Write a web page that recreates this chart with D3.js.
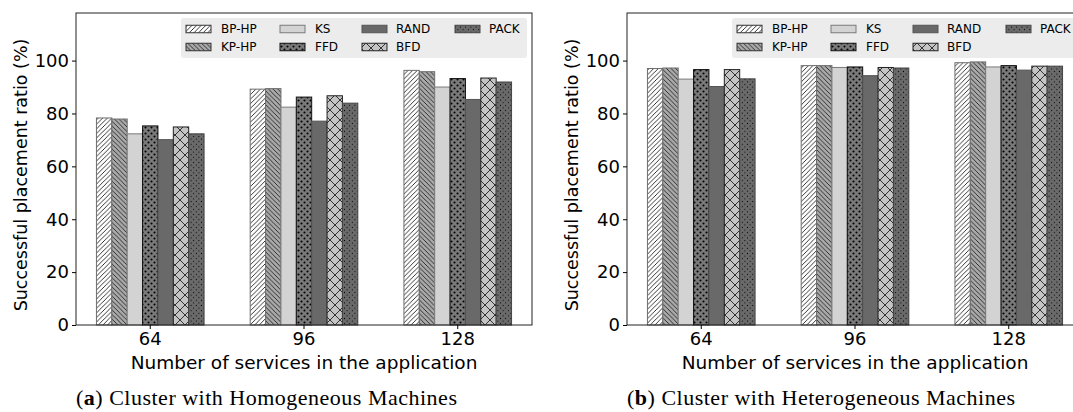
<!DOCTYPE html>
<html>
<head>
<meta charset="utf-8">
<script src="https://cdn.jsdelivr.net/npm/d3@7"></script>
<style>
    body { margin: 0; background: #fff; }
    svg { display: block; }
    .tick text { font-family: "DejaVu Sans", sans-serif; }
</style>
</head>
<body>
<div id="chart"></div>
<script>
// categories / series
const categories = ['64', '96', '128'];
const seriesNames = ['BP-HP', 'KP-HP', 'KS', 'FFD', 'RAND', 'BFD', 'PACK'];
const yTicks = [0, 20, 40, 60, 80, 100];

// (a) homogeneous machines, one array per series (64, 96, 128)
const homBPHP = [78.3, 89.2, 96.3];
const homKPHP = [77.9, 89.4, 95.8];
const homKS = [72.3, 82.4, 90.0];
const homFFD = [75.3, 86.2, 93.2];
const homRAND = [70.1, 77.1, 85.3];
const homBFD = [74.9, 86.7, 93.4];
const homPACK = [72.3, 83.9, 91.9];

// (b) heterogeneous machines
const hetBPHP = [97.0, 98.1, 99.2];
const hetKPHP = [97.2, 98.1, 99.5];
const hetKS = [93.0, 97.4, 97.6];
const hetFFD = [96.6, 97.6, 98.1];
const hetRAND = [90.2, 94.3, 96.4];
const hetBFD = [96.6, 97.4, 97.9];
const hetPACK = [93.1, 97.2, 97.9];

const homogeneous = [homBPHP, homKPHP, homKS, homFFD, homRAND, homBFD, homPACK];
const heterogeneous = [hetBPHP, hetKPHP, hetKS, hetFFD, hetRAND, hetBFD, hetPACK];

const styles = {
    'BP-HP': { fill: 'url(#pBP)', stroke: '#6e6e6e' },
    'KP-HP': { fill: 'url(#pKP)', stroke: '#6e6e6e' },
    'KS': { fill: '#d3d3d3', stroke: '#7a7a7a' },
    'FFD': { fill: 'url(#pFFD)', stroke: '#111' },
    'RAND': { fill: '#696969', stroke: '#555' },
    'BFD': { fill: 'url(#pBFD)', stroke: '#222' },
    'PACK': { fill: 'url(#pPACK)', stroke: '#444' },
};

const W = 1073, H = 412;
const svg = d3.select('#chart').append('svg')
    .attr('width', W)
    .attr('height', H);

svg.append('rect').attr('width', W).attr('height', H).attr('fill', '#fff');

// hatch patterns
const defs = svg.append('defs');

function linePattern(id, bg, size, paths, sw)
{
    const p = defs.append('pattern')
        .attr('id', id)
        .attr('patternUnits', 'userSpaceOnUse')
        .attr('width', size)
        .attr('height', size);
    p.append('rect').attr('width', size).attr('height', size).attr('fill', bg);
    paths.forEach(d => p.append('path').attr('d', d).attr('stroke', '#222').attr('stroke-width', sw).attr('fill', 'none'));
}

function dotPattern(id, bg, size, dots, r)
{
    const p = defs.append('pattern')
        .attr('id', id)
        .attr('patternUnits', 'userSpaceOnUse')
        .attr('width', size)
        .attr('height', size);
    p.append('rect').attr('width', size).attr('height', size).attr('fill', bg);
    dots.forEach(([cx, cy]) => p.append('circle').attr('cx', cx).attr('cy', cy).attr('r', r).attr('fill', '#000'));
}

const s = 4.6;
linePattern('pBP', '#fff', s, [`M0,${s} L${s},0`, `M${-s / 2},${s / 2} L${s / 2},${-s / 2}`, `M${s / 2},${s * 1.5} L${s * 1.5},${s / 2}`], 0.9);
linePattern('pKP', '#a9a9a9', s, [`M0,0 L${s},${s}`, `M${-s / 2},${s / 2} L${s / 2},${s * 1.5}`, `M${s / 2},${-s / 2} L${s * 1.5},${s / 2}`], 0.9);
const b = 10;
linePattern('pBFD', '#c4c4c4', b, [`M0,0 L${b},${b}`, `M0,${b} L${b},0`], 0.9);
dotPattern('pFFD', '#7a7a7a', 6, [[1.5, 1.5], [4.5, 4.5]], 1.05);
dotPattern('pPACK', '#6a6a6a', 5.2, [[1.3, 1.3], [3.9, 3.9]], 0.55);

const margin = { top: 13, bottom: 325 };

function drawPanel(left, values, caption, tag)
{
    const right = left + 456;
    const g = svg.append('g');

    const x = d3.scaleBand()
        .domain(categories)
        .range([left, right])
        .paddingInner(0.3)
        .paddingOuter(0.133);

    const xs = d3.scaleBand()
        .domain(seriesNames)
        .range([0, x.bandwidth()]);

    const y = d3.scaleLinear()
        .domain([0, 118])
        .range([margin.bottom, margin.top]);

    // bars
    seriesNames.forEach((name, si) => {
        g.append('g')
            .selectAll('rect')
            .data(values[si])
            .enter()
                .append('rect')
                    .attr('x', (v, i) => x(categories[i]) + xs(name))
                    .attr('y', v => y(v))
                    .attr('width', xs.bandwidth())
                    .attr('height', v => y(0) - y(v))
                    .attr('fill', styles[name].fill)
                    .attr('stroke', styles[name].stroke)
                    .attr('stroke-width', 1);
    });

    // frame
    g.append('rect')
        .attr('x', left).attr('y', margin.top)
        .attr('width', right - left).attr('height', margin.bottom - margin.top)
        .attr('fill', 'none').attr('stroke', '#222').attr('stroke-width', 1);

    const yAxis = g.append('g')
        .attr('transform', `translate(${left},0)`)
        .call(d3.axisLeft(y).tickValues(yTicks).tickSize(4).tickPadding(3));
    yAxis.select('.domain').remove();
    yAxis.selectAll('text').attr('font-size', 18).attr('fill', '#000');

    const xAxis = g.append('g')
        .attr('transform', `translate(0,${margin.bottom})`)
        .call(d3.axisBottom(x).tickSize(4).tickPadding(3));
    xAxis.select('.domain').remove();
    xAxis.selectAll('text').attr('font-size', 18).attr('fill', '#000');

    g.append('text')
        .attr('transform', `translate(${left - 49},${(margin.top + margin.bottom) / 2 + 6}) rotate(-90)`)
        .attr('text-anchor', 'middle')
        .attr('font-family', 'DejaVu Sans, sans-serif')
        .attr('font-size', 17.5)
        .text('Successful placement ratio (%)');

    g.append('text')
        .attr('x', (left + right) / 2)
        .attr('y', 369)
        .attr('text-anchor', 'middle')
        .attr('font-family', 'DejaVu Sans, sans-serif')
        .attr('font-size', 18.5)
        .text('Number of services in the application');

    // legend
    const lx = left + 105, ly = 18;
    const legend = g.append('g').attr('transform', `translate(${lx},${ly})`);
    legend.append('rect')
        .attr('width', 346).attr('height', 40).attr('rx', 3)
        .attr('fill', '#ebebeb').attr('opacity', 0.95);

    const colPatch = [5, 99, 181, 274];
    const colText = [40, 134, 215, 308];
    const rowY = [11, 29];
    seriesNames.forEach((name, i) => {
        const c = Math.floor(i / 2), r = i % 2;
        legend.append('rect')
            .attr('x', colPatch[c]).attr('y', rowY[r] - 3.75)
            .attr('width', 25).attr('height', 7.5)
            .attr('fill', styles[name].fill)
            .attr('stroke', styles[name].stroke === '#6e6e6e' ? '#333' : styles[name].stroke)
            .attr('stroke-width', 1);
        legend.append('text')
            .attr('x', colText[c]).attr('y', rowY[r])
            .attr('dy', '.36em')
            .attr('font-family', 'DejaVu Sans, sans-serif')
            .attr('font-size', 12)
            .text(name);
    });

    // caption
    const cap = g.append('text')
        .attr('x', left)
        .attr('y', 405)
        .attr('font-family', 'Liberation Serif, serif')
        .attr('font-size', 22)
        .attr('letter-spacing', 0.5);
    cap.append('tspan').text('(');
    cap.append('tspan').attr('font-weight', 'bold').text(tag);
    cap.append('tspan').text(') ' + caption);
}

drawPanel(76, homogeneous, 'Cluster with Homogeneous Machines', 'a');
drawPanel(627, heterogeneous, 'Cluster with Heterogeneous Machines', 'b');
</script>
</body>
</html>
